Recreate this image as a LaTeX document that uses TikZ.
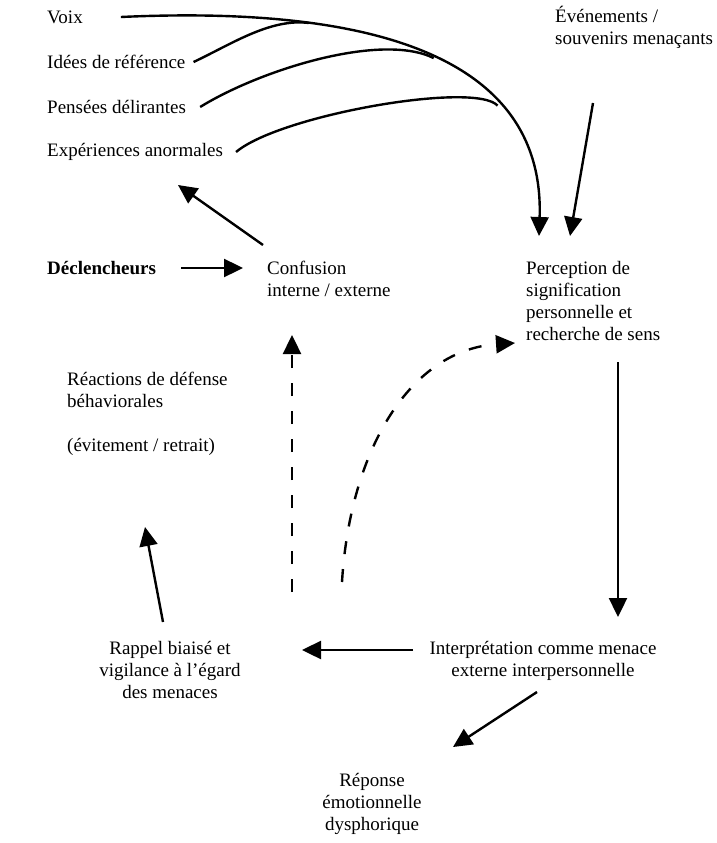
\documentclass[tikz,border=0pt]{standalone}
\usepackage{fontspec}
\setmainfont{Liberation Serif}
\usetikzlibrary{arrows.meta}

\begin{document}
\begin{tikzpicture}[
      x=1pt, y=-1pt,
      lbl/.style={font=\fontsize{19}{22}\selectfont, inner sep=0pt, align=left, anchor=west},
      mid/.style={lbl, align=center, anchor=center},
      arr/.style={-{Triangle[length=19pt,width=18pt]}, line width=2.4pt},
      feed/.style={line width=2.4pt},
      dasharr/.style={arr, dash pattern=on 13pt off 15pt}
  ]
  \useasboundingbox (0,0) rectangle (716,843);

  % symptoms (top left)
  \node[lbl] (voix) at (47,17) {Voix};
  \node[lbl] (idees) at (47,62) {Idées de référence};
  \node[lbl] (pensees) at (47,107) {Pensées délirantes};
  \node[lbl] (exper) at (47,152) {Expériences anormales};
  \node[lbl] (events) at (555,27) {Événements /\\souvenirs menaçants};

  % middle row
  \node[lbl, font=\fontsize{19}{22}\selectfont\bfseries] (decl) at (47,268) {Déclencheurs};
  \node[lbl] (conf) at (267,279) {Confusion\\interne / externe};
  \node[lbl] (perc) at (526,301) {Perception de\\signification\\personnelle et\\recherche de sens};
  \node[lbl] (react) at (67,414) {Réactions de défense\\béhaviorales\\[22pt](évitement / retrait)};

  % bottom
  \node[mid] (rappel) at (170,670) {Rappel biaisé et\\vigilance à l’égard\\des menaces};
  \node[mid] (interp) at (543,661) {Interprétation comme menace\\externe interpersonnelle};
  \node[mid] (reponse) at (372,804) {Réponse\\émotionnelle\\dysphorique};

  % arrow ends
  \coordinate (tip1) at (539,236);
  \coordinate (tip2) at (570,236);
  \coordinate (evs) at (593,103);
  \coordinate (confout) at (263,245);
  \coordinate (experin) at (178,185);
  \coordinate (dashA) at (292,592);
  \coordinate (confin) at (292,335);
  \coordinate (dashB) at (342,582);
  \coordinate (percin) at (515,343);
  \coordinate (percout) at (618,362);
  \coordinate (interpin) at (618,617);
  \coordinate (interpout) at (413,650);
  \coordinate (rappelin) at (302,650);
  \coordinate (rappelout) at (163,622);
  \coordinate (reactin) at (145,527);
  \coordinate (interpdown) at (537,692);
  \coordinate (reponsein) at (453,747);

  % bundle into perception
  \draw[arr] ([xshift=38pt]voix.east) .. controls (380,5) and (545,60) .. (tip1)
    coordinate[pos=0.27] (m1) coordinate[pos=0.51] (m2) coordinate[pos=0.69] (m3);
  \draw[feed] ([xshift=8pt]idees.east) .. controls (230,45) and (270,18) .. (m1);
  \draw[feed] ([xshift=14pt]pensees.east) .. controls (260,70) and (381,32) .. (m2);
  \draw[feed] ([xshift=13pt]exper.east) .. controls (280,115) and (475,81) .. (m3);
  \draw[arr] (evs) -- (tip2);

  \draw[arr] (confout) -- (experin);
  \draw[arr] ([xshift=25pt]decl.east) -- ([xshift=-24pt]decl.east -| conf.west);

  \draw[dasharr] (dashA) -- (confin);
  \draw[dasharr] (dashB) .. controls (350,450) and (410,350) .. (percin);

  \draw[arr] (percout) -- (interpin);
  \draw[arr] (interpout) -- (rappelin);
  \draw[arr] (rappelout) -- (reactin);
  \draw[arr] (interpdown) -- (reponsein);
\end{tikzpicture}
\end{document}
